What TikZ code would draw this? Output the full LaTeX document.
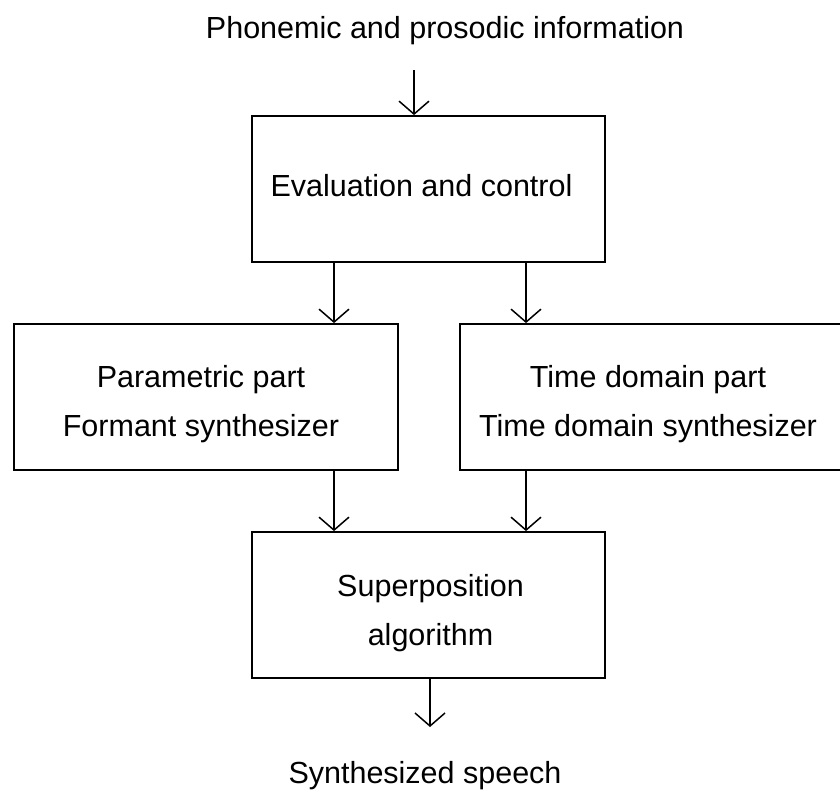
\documentclass[tikz,border=0pt]{standalone}
\usepackage{fontspec}
\setmainfont{Liberation Sans}
\usetikzlibrary{arrows.meta}
\begin{document}
\begin{tikzpicture}[x=1pt, y=-1pt,
  txt/.style={font=\fontsize{30.5}{49}\selectfont},
  block/.style={draw, line width=1.8pt, minimum width=#1,
    minimum height=146pt, inner sep=0pt},
  inside/.style={txt, inner sep=0pt, align=center},
  caption/.style={txt, inner sep=0pt, anchor=base},
  flow/.style={draw, line width=1.5pt,
    -{Straight Barb[length=13pt, width=30pt]}}]
  \useasboundingbox (0,0) rectangle (840,795);

  % input and output labels
  \node[caption] (in) at (445,38) {Phonemic and prosodic information};
  \node[caption] (out) at (425,783) {Synthesized speech};

  % processing blocks
  \node[block=353pt] (eval) at (428.5,189) {};
  \node[block=384pt] (param) at (206,397) {};
  \node[block=382pt] (time) at (651,397) {};
  \node[block=353pt] (sup) at (428.5,605) {};

  % block texts
  \node[inside] (evaltext) at ([xshift=-7pt, yshift=3pt] eval.center)
    {Evaluation and control};
  \node[inside] (paramtext) at ([xshift=-5pt, yshift=-7.5pt] param.center)
    {Parametric part\\Formant synthesizer};
  \node[inside] (timetext) at ([xshift=-3pt, yshift=-7.5pt] time.center)
    {Time domain part\\Time domain synthesizer};
  \node[inside] (suptext) at ([xshift=2pt, yshift=-8pt] sup.center)
    {Superposition\\algorithm};

  % columns of the connectors
  \coordinate (intail) at (414,70);
  \coordinate (xl) at (334,0);
  \coordinate (xr) at (526,0);
  \coordinate (outtip) at (430,727);

  % connectors
  \draw[flow] (intail) -- (intail |- eval.north);
  \draw[flow] (eval.south -| xl) -- (param.north -| xl);
  \draw[flow] (eval.south -| xr) -- (time.north -| xr);
  \draw[flow] (param.south -| xl) -- (sup.north -| xl);
  \draw[flow] (time.south -| xr) -- (sup.north -| xr);
  \draw[flow] (sup.south -| outtip) -- (outtip);
\end{tikzpicture}
\end{document}
